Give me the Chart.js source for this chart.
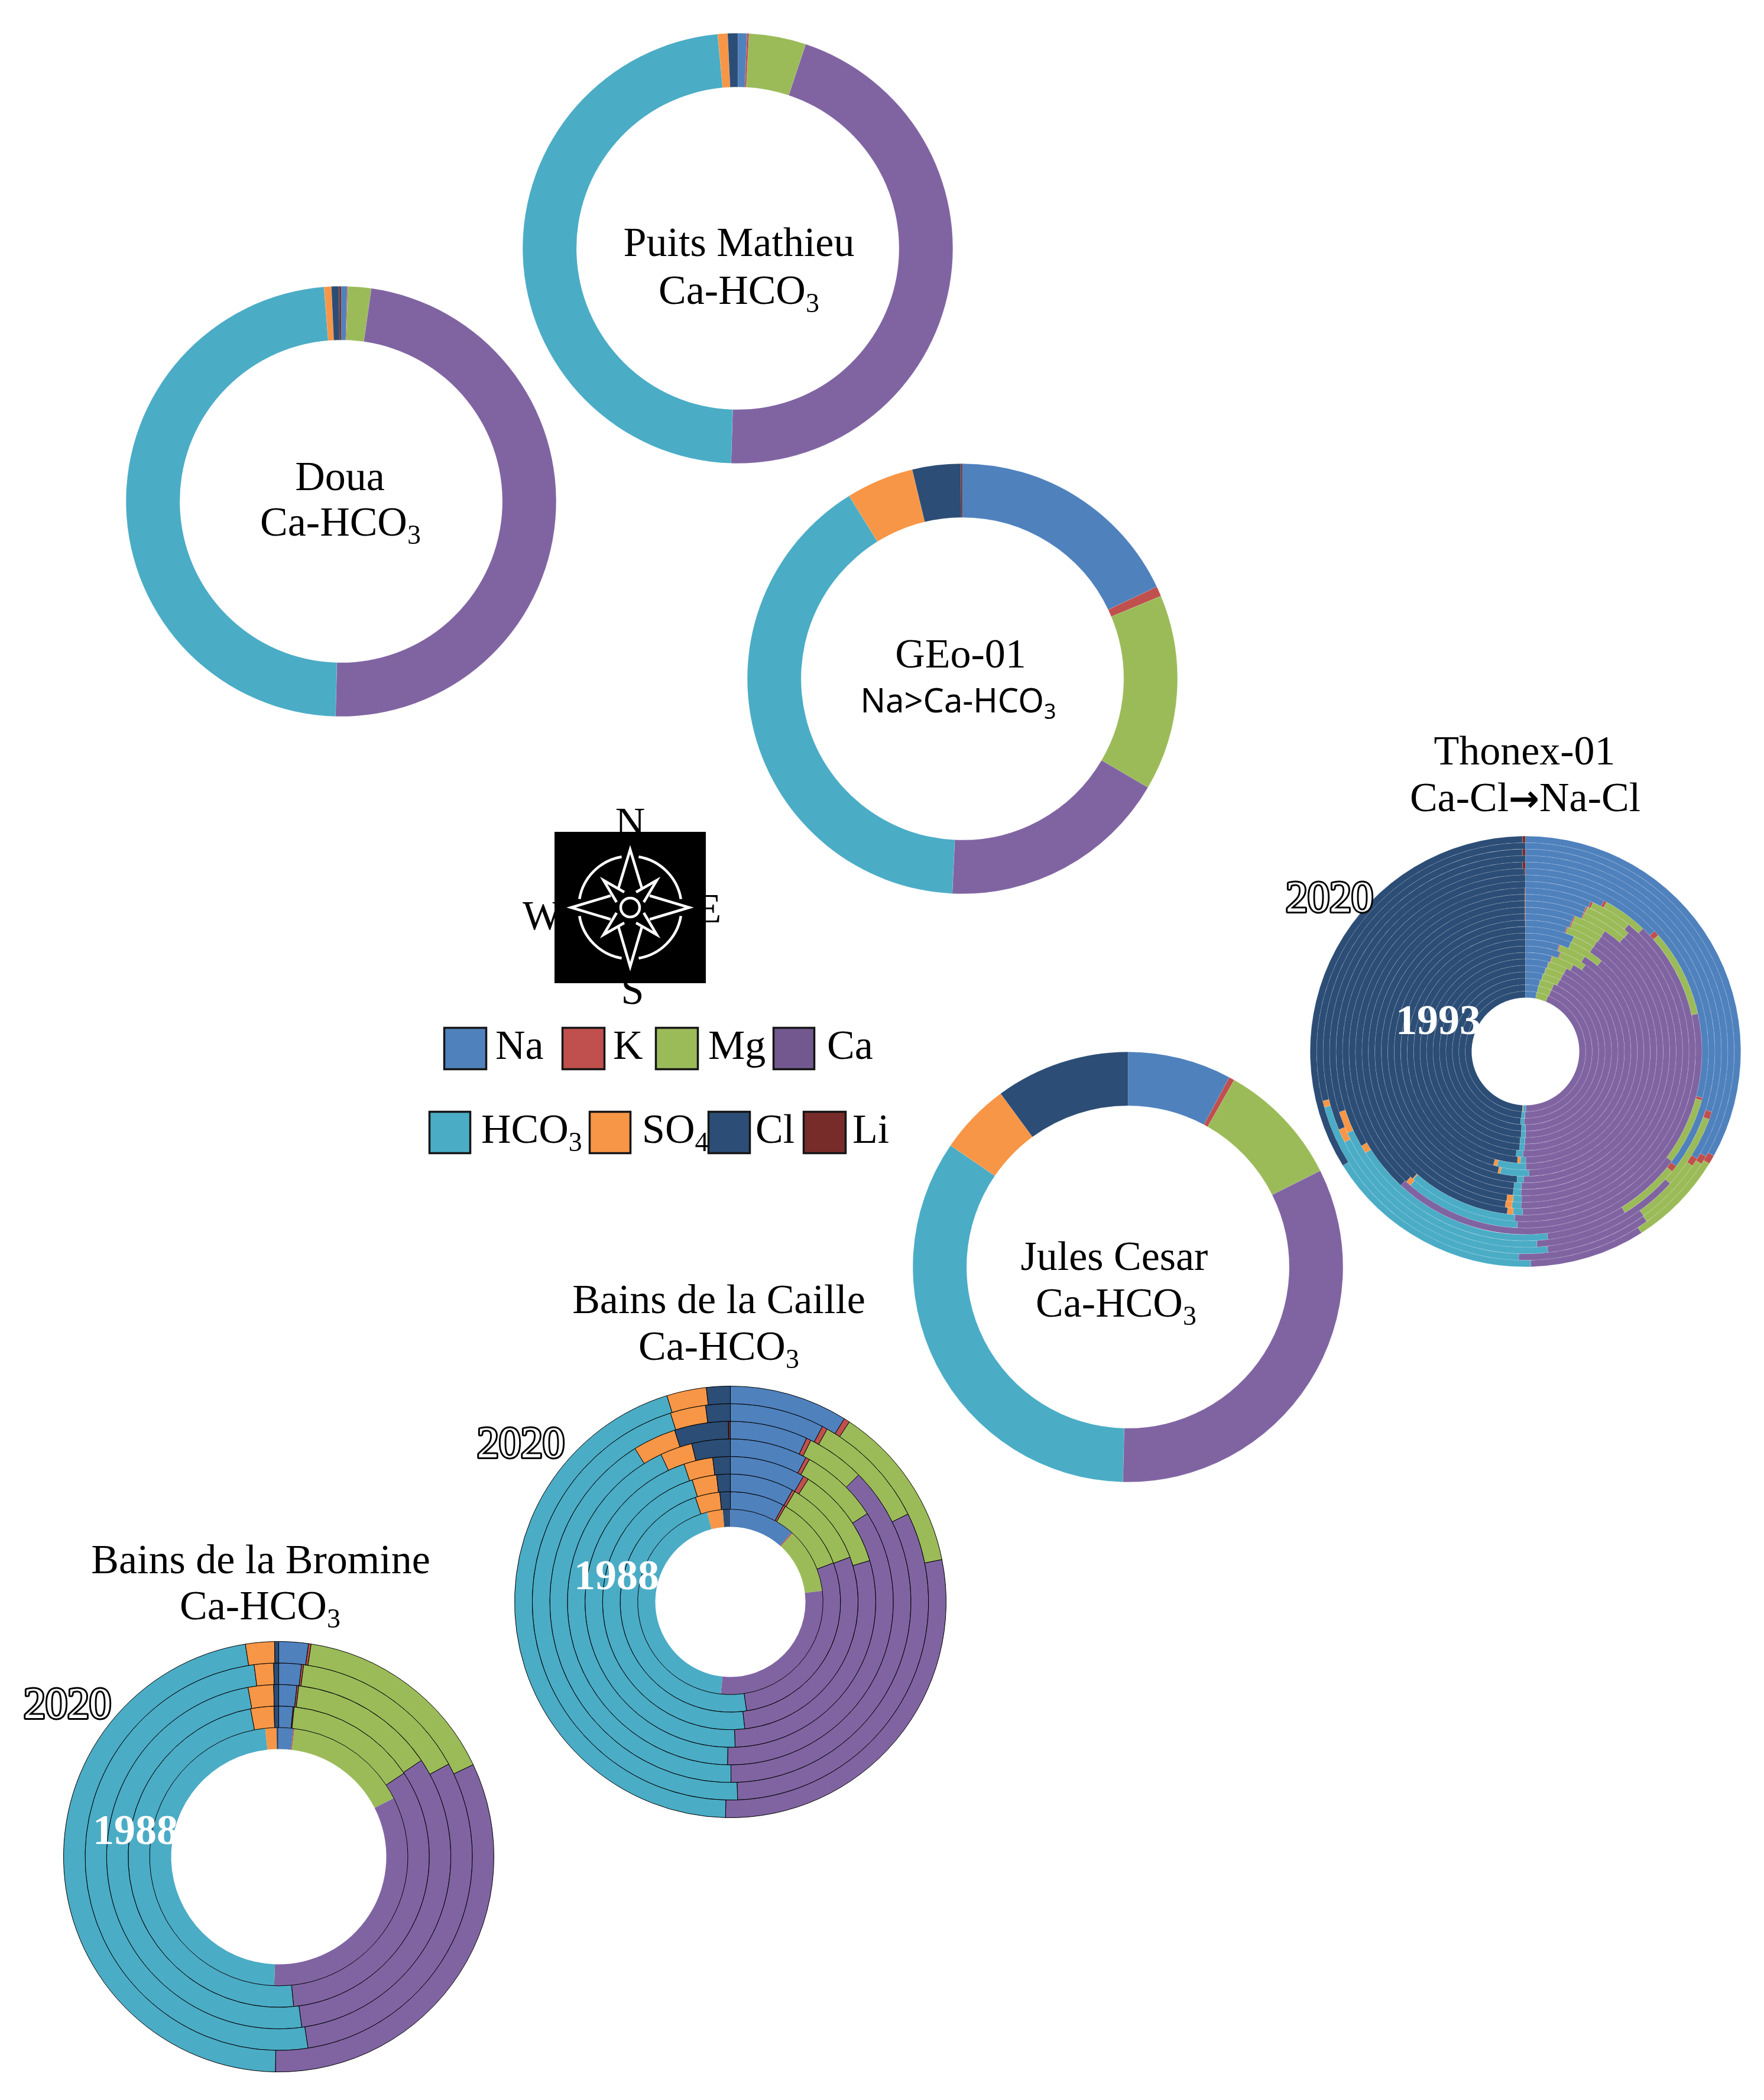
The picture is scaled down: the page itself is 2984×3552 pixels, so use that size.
<!DOCTYPE html>
<html>
<head>
<meta charset="utf-8">
<title>Water chemistry doughnuts</title>
<script src="https://cdn.jsdelivr.net/npm/chart.js@4"></script>
<style>
html,body{margin:0;padding:0;background:#fff}
#page{position:relative;width:2984px;height:3552px;overflow:hidden;background:#fff}
canvas{position:absolute;z-index:1}
#overlay{position:absolute;left:0;top:0;z-index:2}
</style>
</head>
<body>
<div id="page"><svg id="overlay" width="2984" height="3552" xmlns="http://www.w3.org/2000/svg"></svg></div>
<script>
// Ions, clockwise from 12 o'clock
const ions = ['Na','K','Mg','Ca','HCO3','SO4','Cl','Li'];
const ionColors = ['#4F81BD','#C0504D','#9BBB59','#8064A2','#4BACC6','#F79646','#2C4D75','#772C2A'];
const legendColors = ['#4F81BD','#C0504D','#9BBB59','#72588F','#4BACC6','#F79646','#2C4D75','#772C2A'];

// Share of each ion (%), single samples
const doua         = [0.45,0.06,1.74,48.16,48.32,0.55,0.56,0.16];
const puitsMathieu = [0.69,0.15,4.28,45.37,48.01,0.74,0.75,0];
const geo01        = [17.97,0.75,14.72,17.31,40.42,5.08,3.64,0.11];
const julesCesar   = [7.81,0.42,9.39,32.75,34.19,5.36,10.08,0];

// Time series: first row is the outer ring (2020), last row is the inner ring (1988 / 1993)
const bainsBromine = [
  [2.22,0.19,15.56,32.28,47.28,2.17,0.31,0],
  [1.89,0.17,15.00,30.53,50.39,1.61,0.42,0],
  [1.69,0.17,13.69,32.31,49.28,2.39,0.47,0],
  [1.53,0.11,14.00,32.78,48.58,2.50,0.50,0],
  [1.81,0.14,15.56,33.06,47.78,1.39,0.28,0]
];
const bainsCaille = [
  [8.86,0.44,12.56,28.50,44.89,2.97,1.78,0],
  [7.69,0.44,9.56,31.72,45.69,2.89,2.00,0],
  [6.94,0.42,5.22,37.36,41.19,3.86,4.83,0.17],
  [7.67,0.39,7.83,34.39,42.72,3.19,3.81,0],
  [8.39,0.61,11.42,29.06,45.36,3.22,1.94,0],
  [8.06,0.36,10.89,28.89,46.97,3.11,1.72,0],
  [8.00,0.33,10.92,28.39,47.22,3.61,1.53,0],
  [11.53,0.22,11.33,28.58,44.31,2.72,1.31,0]
];
const thonex01 = [
  [33.06,0.67,7.22,8.67,16.50,0,33.67,0.22],
  [33.39,0.67,6.08,10.39,20.17,0.50,28.81,0],
  [33.89,0.67,5.53,8.14,19.39,1.08,31.07,0.24],
  [30.00,0.64,6.14,12.28,19.11,1.83,30.00,0],
  [35.36,0.56,5.28,6.92,17.89,0.69,33.06,0.25],
  [29.08,0.22,5.94,26.69,0,0,37.97,0.08],
  [13.06,0.50,8.00,29.19,10.56,0.50,38.19,0],
  [7.64,0.28,4.22,38.89,10.42,0.11,38.44,0],
  [6.56,0.22,4.08,39.42,0.94,0.58,48.14,0.06],
  [6.31,0.14,4.94,39.06,0.94,0.69,47.86,0.06],
  [6.31,0.11,4.92,39.08,0.92,0.67,47.94,0.06],
  [5.47,0.14,3.67,41.22,0.89,0,48.56,0.06],
  [5.42,0.14,3.72,41.19,0.89,0,48.58,0.06],
  [5.11,0.14,3.94,41.06,0.81,0,48.92,0.03],
  [6.36,0,2.81,40.39,3.69,0.33,46.42,0],
  [6.28,0,4.83,38.83,3.94,0.50,45.61,0],
  [4.86,0.14,3.89,41.06,0.78,0.44,48.83,0],
  [5.33,0.14,4.17,40.75,1.06,0,48.56,0],
  [4.28,0.11,3.67,42.11,0.81,0,49.03,0],
  [4.00,0.08,3.22,42.81,0.86,0,49.03,0],
  [3.78,0.06,3.39,42.78,0.83,0,49.17,0],
  [3.53,0.03,3.56,42.89,0.83,0,49.17,0],
  [3.22,0,3.17,43.92,0.81,0,48.89,0],
  [3.11,0,3.22,43.81,0.86,0,49.00,0],
  [3.00,0,3.17,43.72,0.78,0.17,49.17,0]
];

// Placement of each chart on the page
const charts = [
  {rows:[doua],         cx:577,    cy:848,  r:364, cutout:'75%',   bw:0.4,  bc:'rgba(255,255,255,.3)'},
  {rows:[puitsMathieu], cx:1248,   cy:420,  r:364, cutout:'75%',   bw:0.4,  bc:'rgba(255,255,255,.3)'},
  {rows:[geo01],        cx:1627.5, cy:1148, r:364, cutout:'75%',   bw:0.4,  bc:'rgba(255,255,255,.3)'},
  {rows:[julesCesar],   cx:1907.5, cy:2142.5,r:364,cutout:'75%',   bw:0.4,  bc:'rgba(255,255,255,.3)'},
  {rows:thonex01,       cx:2580,   cy:1778, r:364, cutout:'25%',   bw:0.5,  bc:'rgba(255,255,255,.3)'},
  {rows:bainsCaille,    cx:1235,   cy:2709, r:365, cutout:'34.8%', bw:1,    bc:'#000', plainInner:true},
  {rows:bainsBromine,   cx:471,    cy:3140, r:364, cutout:'50%',   bw:1,    bc:'#000', plainInner:true}
];

charts.forEach(function(c){
  const size = Math.round(2*c.r + c.bw);
  const cv = document.createElement('canvas');
  cv.width = size; cv.height = size;
  cv.style.left = (c.cx - size/2) + 'px';
  cv.style.top  = (c.cy - size/2) + 'px';
  document.getElementById('page').appendChild(cv);
  new Chart(cv, {
    type:'doughnut',
    data:{
      labels:ions,
      datasets:c.rows.map(function(row,i){
        const inner = c.plainInner && i===c.rows.length-1;
        return {data:row, backgroundColor:ionColors,
                borderWidth:inner?0:c.bw, borderColor:c.bc};
      })
    },
    options:{
      responsive:false, animation:false, devicePixelRatio:1,
      cutout:c.cutout, layout:{padding:0},
      plugins:{legend:{display:false}, tooltip:{enabled:false}}
    }
  });
});

// Text on the page: text, optional subscript, x, baseline y
const serif = '"Liberation Serif", serif';
const titles = [
  ['Doua',null,575,829],['Ca-HCO','3',576,906],
  ['Puits Mathieu',null,1250,433],['Ca-HCO','3',1250,514],
  ['GEo-01',null,1625,1129],
  ['Thonex-01',null,2579,1293],
  ['Jules Cesar',null,1885,2148],['Ca-HCO','3',1888,2227],
  ['Bains de la Caille',null,1216,2221],['Ca-HCO','3',1216,2300],
  ['Bains de la Bromine',null,441,2661],['Ca-HCO','3',440,2739]
];
const legendLabels = [
  ['Na',null,838,1791],['K',null,1037,1791],['Mg',null,1198,1791],['Ca',null,1399,1791],
  ['HCO','3',814,1933],['SO','4',1086,1933],['Cl',null,1278,1933],['Li',null,1442,1933]
];
const legendBoxes = [
  [750,1737,74,73],[950,1737,74,73],[1108,1737,74,73],[1307,1737,72,73],
  [725,1879,72,73],[996,1879,72,73],[1197,1879,73,73],[1358,1879,74,73]
];
const startYears = [['2020',2249,1542],['2020',881,2465],['2020',114,2906]];
const endYears   = [['1993',2433,1749],['1988',1043,2688],['1988',229,3119]];
const compassLetters = [['N',1066,1414],['W',917,1572],['E',1199,1560],['S',1070,1698]];

const NS = 'http://www.w3.org/2000/svg';
const svg = document.getElementById('overlay');
function el(name, attrs, parent){
  const e = document.createElementNS(NS, name);
  for (const k in attrs) e.setAttribute(k, attrs[k]);
  (parent||svg).appendChild(e);
  return e;
}
function text(str, sub, x, y, o){
  o = o||{};
  const size = o.size||70;
  const t = el('text',{x:x,y:y,'text-anchor':o.anchor||'middle','font-family':o.family||serif,
    'font-size':size,'font-weight':o.weight||'normal',fill:o.fill||'#000'});
  if (o.stroke){ t.setAttribute('stroke',o.stroke); t.setAttribute('stroke-width',o.sw); t.setAttribute('paint-order','stroke'); t.setAttribute('stroke-linejoin','round'); }
  t.appendChild(document.createTextNode(str));
  if (sub){
    const s = el('tspan',{dy:Math.round(size*0.2),'font-size':Math.round(size*0.65)},t);
    s.textContent = sub;
  }
  return t;
}

// Compass letters sit behind the black compass tile
compassLetters.forEach(function(l){ text(l[0],null,l[1],l[2],{size:70}); });
el('rect',{x:938,y:1407,width:256,height:256,fill:'#000'});
const g = el('g',{transform:'translate(1066 1535)',fill:'none',stroke:'#fff','stroke-width':4.5,'stroke-linejoin':'miter'});
[
  '-20,-32 0,-98 20,-32','33,-20 100,0 33,20','20,32 0,100 -20,32','-33,20 -100,0 -33,-20',
  '10,-26 45,-46 23,-9','23,9 45,46 10,26','-10,26 -45,46 -23,9','-23,-9 -45,-46 -10,-26'
].forEach(function(p){ el('polyline',{points:p},g); });
el('circle',{cx:0,cy:0,r:16},g);
el('path',{d:'M14.4,-85.8A87,87 0 0 1 85.8,-14.4M85.8,14.4A87,87 0 0 1 14.4,85.8M-14.4,85.8A87,87 0 0 1 -85.8,14.4M-85.8,-14.4A87,87 0 0 1 -14.4,-85.8'},g);

titles.forEach(function(l){ text(l[0],l[1],l[2],l[3]); });
// Thonex-01 second line with its heavy arrow
const thonexLine = text('Ca-Cl',null,2580,1372);
const arrow = el('tspan',{'font-family':'"DejaVu Sans", sans-serif','font-weight':'bold','font-size':62},thonexLine);
arrow.textContent = '→';
const thonexEnd = el('tspan',{},thonexLine);
thonexEnd.textContent = 'Na-Cl';
text('Na>Ca-HCO','3',1621,1205,{family:'"Noto Sans", sans-serif',size:56});

legendBoxes.forEach(function(b,i){
  el('rect',{x:b[0]+1.5,y:b[1]+1.5,width:b[2]-3,height:b[3]-3,fill:legendColors[i],stroke:'#161616','stroke-width':3.5});
});
legendLabels.forEach(function(l){ text(l[0],l[1],l[2],l[3],{anchor:'start'}); });

startYears.forEach(function(l){ text(l[0],null,l[1],l[2],{size:74,fill:'#fff',stroke:'#000',sw:6}); });
endYears.forEach(function(l){ text(l[0],null,l[1],l[2],{size:72,weight:'bold',fill:'#fff'}); });
</script>
</body>
</html>
